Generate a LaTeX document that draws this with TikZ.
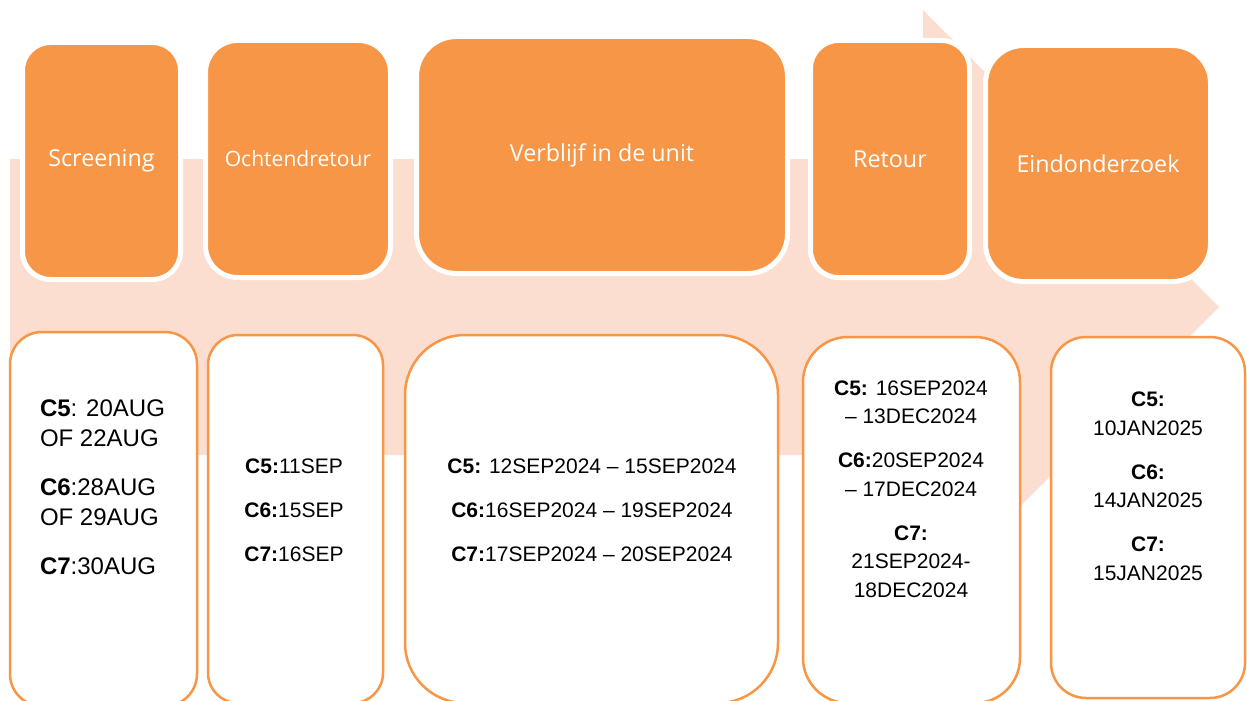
\documentclass[tikz,border=0pt]{standalone}
\usepackage{fontspec}
\setmainfont{Liberation Sans}
\newfontfamily\opensans{Open Sans}
\definecolor{accorange}{HTML}{F79646}
\definecolor{peach}{HTML}{FCDED1}
\begin{document}
\begin{tikzpicture}[x=1pt,y=-1pt,
  obox/.style={draw=white, line width=5pt, fill=accorange, inner sep=0pt, outer sep=0pt,
    text=white, font={\opensans\fontsize{23.3}{28}\selectfont}},
  wbox/.style={draw=accorange, line width=2.5pt, fill=white, inner sep=0pt, outer sep=0pt},
  dtext/.style={inner sep=0pt, outer sep=0pt, text=black}]
\useasboundingbox (0,0) rectangle (1247,701);
\clip (0,0) rectangle (1247,701);
\fill[white] (0,0) rectangle (1247,701);
% background arrow
\fill[peach] (10,159) -- (923,159) -- (923,10) -- (1219,307) -- (923,604) -- (923,455) -- (10,455) -- cycle;
% orange phase boxes
\node[obox, minimum width=158pt, minimum height=237pt, rounded corners=28pt] (o1) at (101.5,161) {Screening};
\node[obox, minimum width=185pt, minimum height=237pt, rounded corners=32pt,
  font={\opensans\fontsize{21.1}{26}\selectfont}] (o2) at (298,159) {Ochtendretour};
\node[obox, minimum width=371pt, minimum height=237pt, rounded corners=40pt] (o3) at (602,155) {Verblijf in de unit};
\node[obox, minimum width=159pt, minimum height=237pt, rounded corners=28pt] (o4) at (890,159) {Retour};
\node[obox, minimum width=225pt, minimum height=236pt, rounded corners=38pt] (o5) at (1098,163.5) {Eindonderzoek};
% white date boxes
\node[wbox, minimum width=187pt, minimum height=374pt, rounded corners=32pt] (w1) at (103.5,519) {};
\node[wbox, minimum width=175pt, minimum height=368pt, rounded corners=30pt] (w2) at (295.5,519) {};
\node[wbox, minimum width=373pt, minimum height=368pt, rounded corners=60pt] (w3) at (591.5,519) {};
\node[wbox, minimum width=217pt, minimum height=366pt, rounded corners=45pt] (w4) at (911.5,520) {};
\node[wbox, minimum width=194pt, minimum height=361pt, rounded corners=35pt] (w5) at (1148,517.5) {};
% texts
\node[dtext, anchor=west, align=left, font={\fontsize{24}{30}\selectfont}] (t1) at (40,487)
  {\textbf{C5}: 20AUG\\OF 22AUG\\[19pt]\textbf{C6}:28AUG\\OF 29AUG\\[19pt]\textbf{C7}:30AUG};
\node[dtext, align=center, font={\fontsize{21}{44}\selectfont}] (t2) at (294,510)
  {\textbf{C5:}11SEP\\\textbf{C6:}15SEP\\\textbf{C7:}16SEP};
\node[dtext, align=center, font={\fontsize{21}{44}\selectfont}] (t3) at (592,510)
  {\textbf{C5:} 12SEP2024 – 15SEP2024\\\textbf{C6:}16SEP2024 – 19SEP2024\\\textbf{C7:}17SEP2024 – 20SEP2024};
\node[dtext, align=center, font={\fontsize{21}{28.5}\selectfont}] (t4) at (911,489)
  {\textbf{C5:} 16SEP2024\\– 13DEC2024\\[15.5pt]\textbf{C6:}20SEP2024\\– 17DEC2024\\[15.5pt]\textbf{C7:}\\21SEP2024-\\18DEC2024};
\node[dtext, align=center, font={\fontsize{21}{28.5}\selectfont}] (t5) at (1148,486.5)
  {\textbf{C5:}\\10JAN2025\\[15.5pt]\textbf{C6:}\\14JAN2025\\[15.5pt]\textbf{C7:}\\15JAN2025};
\end{tikzpicture}
\end{document}
